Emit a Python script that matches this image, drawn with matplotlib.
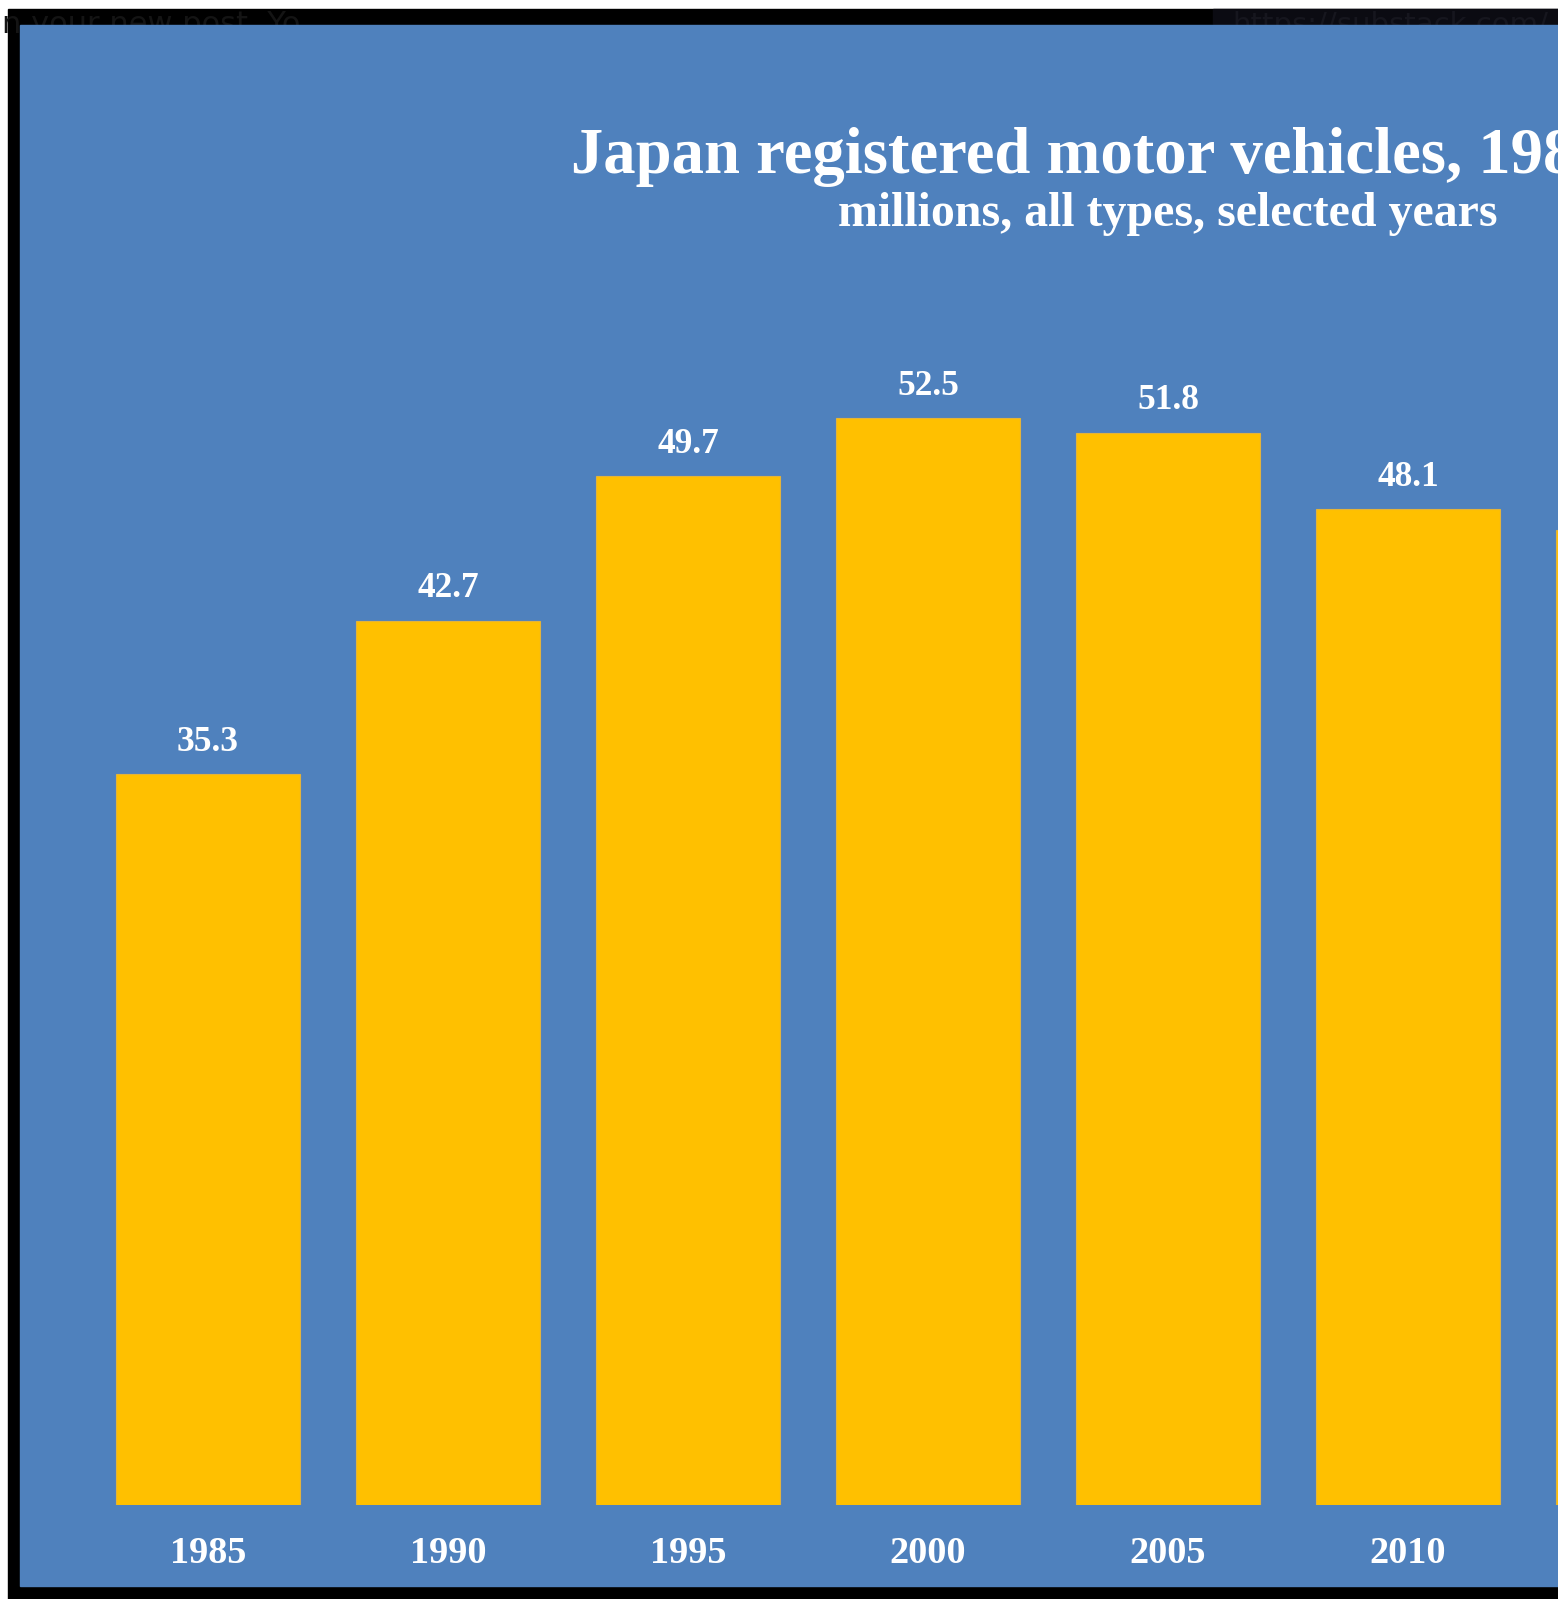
import matplotlib
matplotlib.use("Agg")
import matplotlib.pyplot as plt
from matplotlib.patches import Rectangle

# data (millions of vehicles)
years = ["1985", "1990", "1995", "2000", "2005", "2010", "2015"]
values = [35.3, 42.7, 49.7, 52.5, 51.8, 48.1, 47.1]
n_labelled = 6  # the 2015 bar is cut off at the right edge, its labels are off-canvas

title = "Japan registered motor vehicles, 1985-2023"
subtitle = "millions, all types, selected years"

BLUE = "#4F81BD"
GOLD = "#FFC000"
W, H = 1558, 1599

plt.rcParams['font.family'] = ['Liberation Serif', 'DejaVu Serif']


def px(x, y):
    # pixel (from top-left) -> figure fraction
    return x / W, 1 - y / H


fig = plt.figure(figsize=(W / 100, H / 100), dpi=100, facecolor="white")

# screenshot frame: black band + blue chart area
fig.add_artist(Rectangle(px(8, H), (W - 8) / W, (H - 9) / H,
                         transform=fig.transFigure, color="black", zorder=-3))
fig.text(*px(2, 33), "n your new post. Yo", color="#141414", fontsize=22,
         family="DejaVu Sans", va="baseline", zorder=-2)
fig.add_artist(Rectangle(px(1213, 24), (W - 1213) / W, 15 / H,
                         transform=fig.transFigure, color="#0b0b12", zorder=-2.5))
fig.text(*px(1232, 33), "https://substack.com/", color="#16161e", fontsize=21,
         family="DejaVu Sans", va="baseline", zorder=-2)
fig.add_artist(Rectangle(px(20, 1586), (W - 20) / W, (1586 - 25) / H,
                         transform=fig.transFigure, color=BLUE, zorder=-1))

ax = fig.add_axes([20 / W, (H - 1505) / H, 1 - 20 / W, (1505 - 25) / H])
ax.set_facecolor("none")

x = list(range(len(years)))
ax.bar(x, values, width=0.767, color=GOLD, edgecolor="#E3B33A", linewidth=0.8)

for xi, v in zip(x[:n_labelled], values[:n_labelled]):
    ax.annotate(f"{v}", xy=(xi, v), xytext=(0, 17), textcoords="offset points",
                ha="center", va="baseline", color="white", fontsize=25.5,
                fontweight="bold")

ax.set_xticks(x[:n_labelled], years[:n_labelled])
ax.tick_params(axis="x", length=0, pad=41.8, labelsize=27.5, labelcolor="white")
plt.setp(ax.get_xticklabels(), va="baseline", fontweight="bold")
ax.set_yticks([])
ax.set_xlim((20 - 208) / 240, (1558 - 208) / 240)
ax.set_ylim(0, (1505 - 25) / 20.7)
for s in ax.spines.values():
    s.set_visible(False)

fig.text(*px(571, 173), title, color="white", fontsize=46.5, fontweight="bold",
         ha="left", va="baseline")
fig.text(*px(838, 226), subtitle, color="white", fontsize=34.5, fontweight="bold",
         ha="left", va="baseline")

fig.savefig("out.png", dpi=100, facecolor="white")
